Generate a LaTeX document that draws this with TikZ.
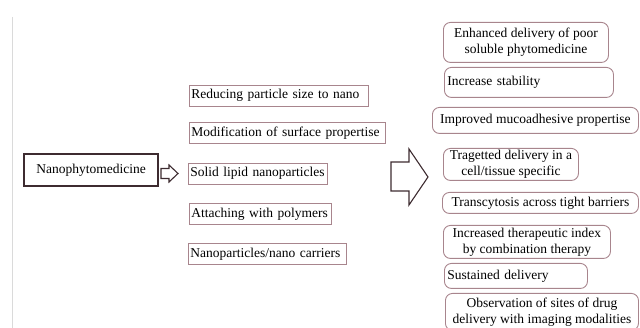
\documentclass[tikz,border=0pt]{standalone}
\usepackage{fontspec}
\setmainfont{Liberation Serif}
\definecolor{edgedark}{HTML}{3D2B30}
\definecolor{edgepink}{HTML}{A8858D}
\definecolor{sideline}{HTML}{DADADA}
\tikzset{
  mainbox/.style={draw=edgedark, line width=1.1pt, minimum width=134pt, minimum height=32pt, inner sep=2pt},
  waybox/.style={draw=edgepink, line width=0.9pt, anchor=west, minimum height=21pt, inner xsep=2pt, inner ysep=1pt, align=left},
  gainbox/.style={draw=edgepink, line width=0.9pt, rounded corners=7pt, anchor=north west, inner xsep=3pt, inner ysep=1pt}
}
\tikzset{blockarrow/.style={draw=edgedark, line width=1.1pt, line join=miter}}
\begin{document}
\begin{tikzpicture}[x=1pt, y=-1pt, font=\fontsize{13.5}{16}\selectfont]
    \useasboundingbox (0,0) rectangle (640,328);
    % Draw the side rule
    \draw[sideline, line width=1pt] (12,17) -- (12,328);

    % Draw the main box
    \node[mainbox] (nano) at (91,170) {Nanophytomedicine};

    % Draw the small arrow
    \draw[blockarrow] (161,168.5) -- (169,168.5) -- (169,165) -- (178,173.5) -- (169,182) -- (169,178.5) -- (161,178.5) -- cycle;

    % Draw the ways (middle column)
    \node[waybox, text width=175pt] (reduce) at (189,95.5) {Reducing particle size to nano};
    \node[waybox, text width=192pt] (modify) at (189,133) {Modification of surface propertise};
    \node[waybox, text width=135pt] (lipid) at (188,173.5) {Solid lipid nanoparticles};
    \node[waybox, text width=138pt] (polymer) at (189,214) {Attaching with polymers};
    \node[waybox, text width=154pt] (carrier) at (188,254) {Nanoparticles/nano carriers};

    % Draw the big arrow
    \draw[blockarrow] (391,162) -- (409,162) -- (409,149) -- (428,177) -- (409,205) -- (409,191) -- (391,191) -- cycle;

    % Draw the gains (right column)
    \node[gainbox, minimum width=165pt, minimum height=40pt, align=center] (enhance) at (443,22) {Enhanced delivery of poor\\ soluble phytomedicine};
    \node[gainbox, text width=163pt, minimum height=30pt, align=left] (stable) at (444,67) {Increase stability};
    \node[gainbox, minimum width=206pt, minimum height=26pt, align=center] (mucoad) at (432,107) {Improved mucoadhesive propertise};
    \node[gainbox, minimum width=135pt, minimum height=32pt, align=center] (target) at (443,148) {Tragetted delivery in a\\ cell/tissue specific};
    \node[gainbox, minimum width=196pt, minimum height=21pt, align=center] (transcyt) at (442,192) {Transcytosis across tight barriers};
    \node[gainbox, minimum width=167pt, minimum height=33pt, align=center] (index) at (443,225) {Increased therapeutic index\\ by combination therapy};
    \node[gainbox, text width=137pt, minimum height=25pt, align=left] (sustain) at (444,263) {Sustained delivery};
    \node[gainbox, minimum width=193pt, minimum height=37pt, align=center] (observe) at (445,293) {Observation of sites of drug\\ delivery with imaging modalities};
\end{tikzpicture}
\end{document}
